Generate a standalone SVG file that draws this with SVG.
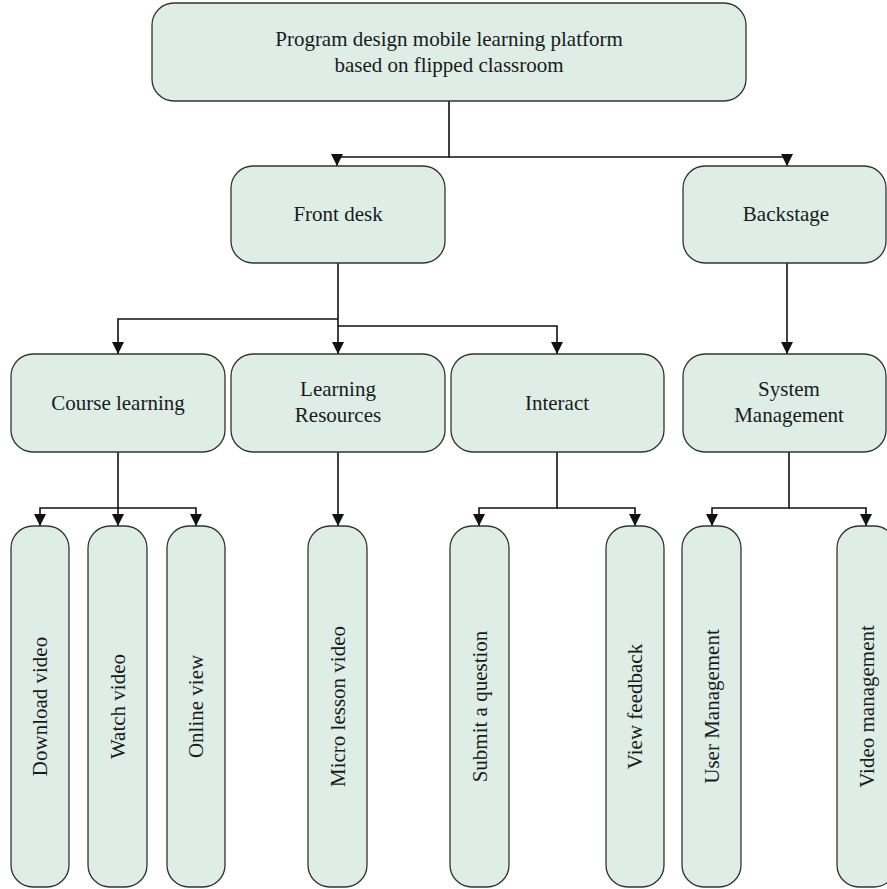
<svg xmlns="http://www.w3.org/2000/svg" width="887" height="889" viewBox="0 0 887 889">
  <style>
    .box { fill: #deeee6; stroke: #333333; stroke-width: 1.3; }
    .lbl { font-family: "Liberation Serif", "Times New Roman", serif; font-size: 21px; fill: #1a1a1a; text-anchor: middle; }
    .wire { fill: none; stroke: #111111; stroke-width: 1.6; marker-end: url(#arrow); }
  </style>
  <defs>
    <marker id="arrow" viewBox="0 0 12 12" refX="12" refY="6" markerWidth="12" markerHeight="12" markerUnits="userSpaceOnUse" orient="auto">
      <path d="M0,0 L12,6 L0,12 z" fill="#111111"/>
    </marker>
  </defs>

  <!-- connectors -->
  <g id="connectors">
    <path class="wire" d="M449,101 V157 H337 V166"/>
    <path class="wire" d="M449,157 H787 V166"/>
    <path class="wire" d="M338,263 V354"/>
    <path class="wire" d="M338,319 H118 V354"/>
    <path class="wire" d="M338,326 H557 V354"/>
    <path class="wire" d="M787,263 V354"/>
    <path class="wire" d="M118,452 V526"/>
    <path class="wire" d="M118,508 H40 V526"/>
    <path class="wire" d="M118,508 H196 V526"/>
    <path class="wire" d="M338,452 V526"/>
    <path class="wire" d="M557,452 V508 H479 V526"/>
    <path class="wire" d="M557,508 H635 V526"/>
    <path class="wire" d="M789,452 V508 H712 V526"/>
    <path class="wire" d="M789,508 H866 V526"/>
  </g>

  <!-- root -->
  <g id="platform">
    <rect class="box" x="152" y="3" width="594" height="98" rx="22"/>
    <text class="lbl" x="449" y="46">Program design mobile learning platform</text>
    <text class="lbl" x="449" y="72">based on flipped classroom</text>
  </g>

  <!-- second level -->
  <g id="front-desk">
    <rect class="box" x="231" y="166" width="214" height="97" rx="22"/>
    <text class="lbl" x="338" y="221">Front desk</text>
  </g>
  <g id="backstage">
    <rect class="box" x="683" y="166" width="203" height="97" rx="22"/>
    <text class="lbl" x="786" y="221">Backstage</text>
  </g>

  <!-- third level -->
  <g id="course-learning">
    <rect class="box" x="11" y="354" width="214" height="98" rx="22"/>
    <text class="lbl" x="118" y="410">Course learning</text>
  </g>
  <g id="learning-resources">
    <rect class="box" x="231" y="354" width="214" height="98" rx="22"/>
    <text class="lbl" x="338" y="396">Learning</text>
    <text class="lbl" x="338" y="422">Resources</text>
  </g>
  <g id="interact">
    <rect class="box" x="451" y="354" width="213" height="98" rx="22"/>
    <text class="lbl" x="557" y="410">Interact</text>
  </g>
  <g id="system-management">
    <rect class="box" x="683" y="354" width="203" height="98" rx="22"/>
    <text class="lbl" x="789" y="396">System</text>
    <text class="lbl" x="789" y="422">Management</text>
  </g>

  <!-- leaves -->
  <g id="download-video">
    <rect class="box" x="11" y="526" width="58" height="361" rx="22"/>
    <text class="lbl" transform="translate(40,706.5) rotate(-90)" y="7">Download video</text>
  </g>
  <g id="watch-video">
    <rect class="box" x="88" y="526" width="59" height="361" rx="22"/>
    <text class="lbl" transform="translate(117.5,706.5) rotate(-90)" y="7">Watch video</text>
  </g>
  <g id="online-view">
    <rect class="box" x="167" y="526" width="58" height="361" rx="22"/>
    <text class="lbl" transform="translate(196,706.5) rotate(-90)" y="7">Online view</text>
  </g>
  <g id="micro-lesson-video">
    <rect class="box" x="308" y="526" width="59" height="361" rx="22"/>
    <text class="lbl" transform="translate(337.5,706.5) rotate(-90)" y="7">Micro lesson video</text>
  </g>
  <g id="submit-question">
    <rect class="box" x="450" y="526" width="59" height="361" rx="22"/>
    <text class="lbl" transform="translate(479.5,706.5) rotate(-90)" y="7">Submit a question</text>
  </g>
  <g id="view-feedback">
    <rect class="box" x="606" y="526" width="58" height="361" rx="22"/>
    <text class="lbl" transform="translate(635,706.5) rotate(-90)" y="7">View feedback</text>
  </g>
  <g id="user-management">
    <rect class="box" x="682" y="526" width="59" height="361" rx="22"/>
    <text class="lbl" transform="translate(711.5,706.5) rotate(-90)" y="7">User Management</text>
  </g>
  <g id="video-management">
    <rect class="box" x="837" y="526" width="59" height="361" rx="22"/>
    <text class="lbl" transform="translate(866.5,706.5) rotate(-90)" y="7">Video management</text>
  </g>
</svg>
